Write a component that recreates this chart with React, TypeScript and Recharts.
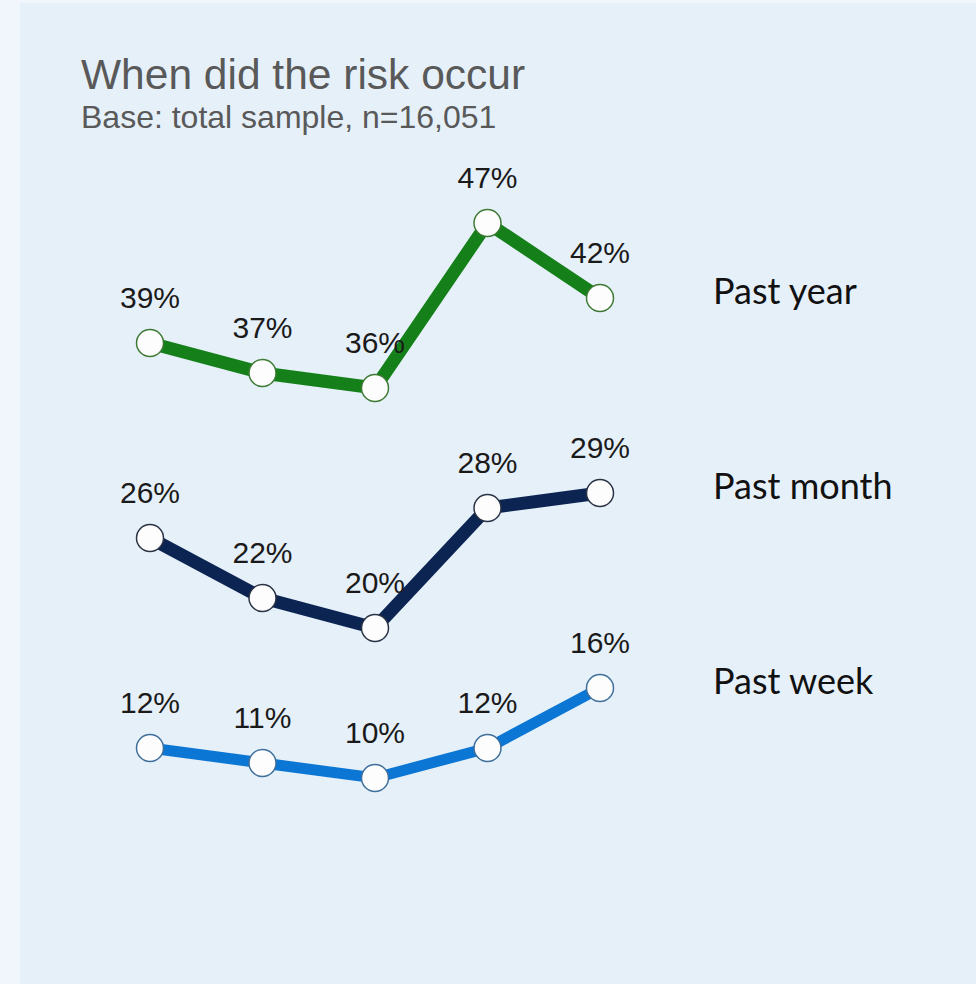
import React from 'react';
import { LineChart, Line, XAxis, YAxis, LabelList } from 'recharts';

// hidden x categories (the reference shows no axis labels)
const waves = ['W1', 'W2', 'W3', 'W4', 'W5'];

const pastYear = [39, 37, 36, 47, 42];
const pastMonth = [26, 22, 20, 28, 29];
const pastWeek = [12, 11, 10, 12, 16];

const seriesNames = ['Past year', 'Past month', 'Past week'];

const data = waves.map((w, i) => ({
  wave: w,
  year: pastYear[i],
  month: pastMonth[i],
  week: pastWeek[i],
}));

const SERIES = [
  { key: 'year', name: seriesNames[0], color: '#15801a', dotStroke: '#3d7a34', width: 13 },
  { key: 'month', name: seriesNames[1], color: '#0b2452', dotStroke: '#2a3345', width: 13 },
  { key: 'week', name: seriesNames[2], color: '#0b76d4', dotStroke: '#3f6f9c', width: 11 },
];

const valueLabel = (props: any) => {
  const { x, y, value } = props;
  return (
    <text x={x} y={y - 46} textAnchor="middle" dominantBaseline="central"
      fontFamily="'Liberation Sans', Arial, sans-serif" fontSize={30} fill="#1a1a1a">
      {value}%
    </text>
  );
};

const endLabel = (name: string) => (props: any) => {
  const { x, y, index } = props;
  if (index !== waves.length - 1) return null;
  return (
    <text x={x + 113} y={y - 8} textAnchor="start" dominantBaseline="central"
      fontFamily="Lato, 'Open Sans', sans-serif" fontSize={36} fill="#111">
      {name}
    </text>
  );
};

export default function App() {
  return (
    <div style={{ position: 'relative', width: 976, height: 984, background: '#f0f6fc', overflow: 'hidden' }}>
      <style>{'body{margin:0}'}</style>
      <div style={{ position: 'absolute', left: 20, top: 3, width: 956, height: 981, background: '#e6f0f9' }} />
      <div style={{ position: 'absolute', left: 81, top: 53, fontFamily: "'Liberation Sans', Arial, sans-serif", color: '#595959', whiteSpace: 'nowrap' }}>
        <div style={{ fontSize: 42.5, lineHeight: '44px' }}>When did the risk occur</div>
        <div style={{ fontSize: 32, lineHeight: '34px', marginTop: 3 }}>Base: total sample, n=16,051</div>
      </div>
      <div style={{ position: 'absolute', left: 0, top: 0 }}>
        <LineChart width={976} height={984} data={data}
          margin={{ top: 178, right: 376, bottom: 56, left: 150 }}>
          <XAxis dataKey="wave" hide />
          <YAxis type="number" domain={[0, 50]} hide />
          {SERIES.map((s) => (
            <Line key={s.key} dataKey={s.key} name={s.name} stroke={s.color} strokeWidth={s.width}
              isAnimationActive={false}
              dot={{ r: 13.5, fill: '#fdfdfd', stroke: s.dotStroke, strokeWidth: 1.5 }}
              activeDot={false}>
              <LabelList dataKey={s.key} content={valueLabel} />
              <LabelList dataKey={s.key} content={endLabel(s.name)} />
            </Line>
          ))}
        </LineChart>
      </div>
    </div>
  );
}
